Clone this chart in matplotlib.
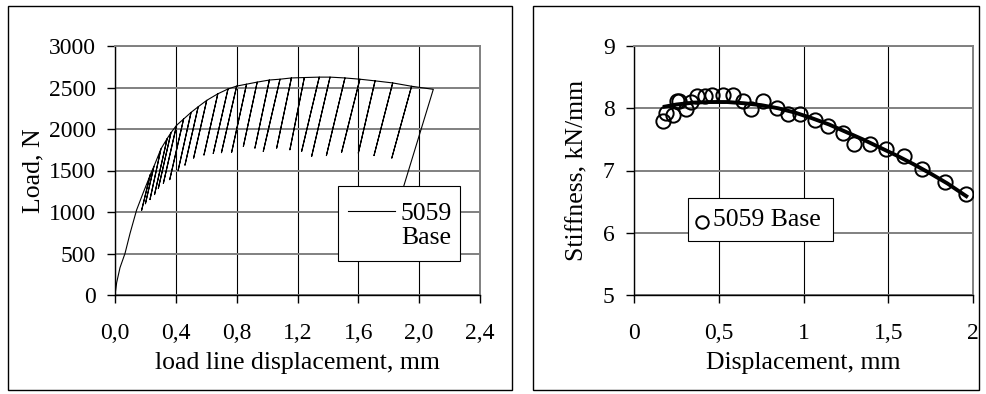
import matplotlib
matplotlib.use("Agg")
import matplotlib.pyplot as plt
from matplotlib.patches import Rectangle
from matplotlib.lines import Line2D
from matplotlib.ticker import FixedLocator, FixedFormatter

# ---------------- data: left chart (load vs load line displacement) ----------------
env_d = [0.0, 0.011, 0.033, 0.066, 0.099, 0.142, 0.185, 0.219]   # initial loading
env_P = [0, 150, 330, 502, 743, 1024, 1230, 1386]

peak_d = [0.232, 0.256, 0.302, 0.343, 0.368, 0.405, 0.451, 0.500, 0.547, 0.603,
          0.676, 0.743, 0.800, 0.865, 0.935, 1.015, 1.085, 1.160, 1.245, 1.343,
          1.414, 1.512, 1.610, 1.710, 1.826, 1.950]
peak_P = [1450, 1550, 1760, 1885, 1955, 2045, 2120, 2200, 2268, 2345,
          2424, 2482, 2517, 2540, 2565, 2590, 2600, 2615, 2620, 2625,
          2625, 2615, 2600, 2580, 2555, 2515]
valley_d = [0.175, 0.200, 0.230, 0.260, 0.285, 0.318, 0.360, 0.415, 0.460, 0.517,
            0.585, 0.646, 0.700, 0.767, 0.844, 0.920, 0.975, 1.063, 1.150, 1.227,
            1.293, 1.390, 1.490, 1.600, 1.703, 1.820]
valley_P = [1020, 1100, 1150, 1210, 1285, 1345, 1390, 1500, 1565, 1650,
            1687, 1705, 1715, 1720, 1790, 1770, 1730, 1770, 1750, 1730,
            1670, 1680, 1720, 1710, 1680, 1650]
final_d = [2.093, 1.780]
final_P = [2478, 600]

load_xticks = [0.0, 0.4, 0.8, 1.2, 1.6, 2.0, 2.4]
load_xticklabels = ["0,0", "0,4", "0,8", "1,2", "1,6", "2,0", "2,4"]
load_yticks = [0, 500, 1000, 1500, 2000, 2500, 3000]

# ---------------- data: right chart (stiffness vs displacement) ----------------
stiff_d = [0.169, 0.188, 0.228, 0.251, 0.267, 0.306, 0.335, 0.369, 0.418, 0.463,
           0.525, 0.584, 0.643, 0.692, 0.760, 0.843, 0.908, 0.980, 1.065, 1.143,
           1.231, 1.300, 1.394, 1.486, 1.594, 1.700, 1.835, 1.957]
stiff_k = [7.80, 7.92, 7.89, 8.11, 8.12, 7.99, 8.10, 8.20, 8.20, 8.21,
           8.21, 8.21, 8.11, 7.99, 8.12, 8.00, 7.90, 7.91, 7.81, 7.71,
           7.61, 7.43, 7.42, 7.35, 7.23, 7.02, 6.82, 6.63]
trend_d = [0.17, 0.25, 0.35, 0.45, 0.55, 0.65, 0.75, 0.85, 0.95, 1.05,
           1.15, 1.25, 1.35, 1.45, 1.55, 1.65, 1.75, 1.85, 1.97]
trend_k = [8.02, 8.06, 8.09, 8.10, 8.10, 8.08, 8.05, 8.00, 7.93, 7.84,
           7.74, 7.62, 7.50, 7.37, 7.24, 7.10, 6.95, 6.79, 6.57]

stiff_xticks = [0, 0.5, 1, 1.5, 2]
stiff_xticklabels = ["0", "0,5", "1", "1,5", "2"]
stiff_yticks = [5, 6, 7, 8, 9]

legend_text_left = "5059\nBase"
legend_text_right = "5059 Base"

# ---------------- figure ----------------
W, H = 986, 394
plt.rcParams['font.family'] = ['Liberation Serif', 'DejaVu Serif']
FS_TICK = 17
FS_LABEL = 18.5
FS_LEG = 18.5
fig = plt.figure(figsize=(W / 100, H / 100), dpi=100)

def fx(px):
    return px / W

def fy(py):
    return 1 - py / H

GRID_GREY = "#808080"

def style_axes(ax):
    for s in ("left", "bottom"):
        ax.spines[s].set_color("black")
        ax.spines[s].set_linewidth(1.0)
    for s in ("top", "right"):
        ax.spines[s].set_color(GRID_GREY)
        ax.spines[s].set_linewidth(1.4)
    ax.tick_params(direction="out", length=6, width=1.0, labelsize=FS_TICK, colors="black")
    ax.tick_params(axis="y", pad=8)
    ax.tick_params(axis="x", pad=14)
    ax.set_axisbelow(True)

# frames around each panel
fig.patches.append(Rectangle((fx(8), fy(390)), fx(512) - fx(8), fy(6) - fy(390),
                             transform=fig.transFigure, fill=False, edgecolor="black", lw=1.0))
fig.patches.append(Rectangle((fx(533), fy(390)), fx(979) - fx(533), fy(6) - fy(390),
                             transform=fig.transFigure, fill=False, edgecolor="black", lw=1.0))

# ---------------- left axes ----------------
ax1 = fig.add_axes([fx(115), fy(295), fx(480) - fx(115), fy(46) - fy(295)])
xs = list(env_d)
ys = list(env_P)
for pd_, pp, vd, vp in zip(peak_d, peak_P, valley_d, valley_P):
    xs += [pd_, vd, pd_]
    ys += [pp, vp, pp]
xs += final_d
ys += final_P
ax1.plot(xs, ys, color="black", lw=0.8, zorder=3)
ax1.set_xlim(0, 2.4)
ax1.set_ylim(0, 3000)
ax1.xaxis.set_major_locator(FixedLocator(load_xticks))
ax1.xaxis.set_major_formatter(FixedFormatter(load_xticklabels))
ax1.set_yticks(load_yticks)
ax1.yaxis.grid(True, color=GRID_GREY, lw=1.4)
ax1.xaxis.grid(True, color="black", lw=0.8)
style_axes(ax1)
ax1.set_xlabel("load line displacement, mm", fontsize=FS_LABEL, labelpad=6)
ax1.set_ylabel("Load, N", fontsize=FS_LABEL, labelpad=3)

# left legend (drawn manually)
fig.patches.append(Rectangle((fx(338), fy(261)), fx(460) - fx(338), fy(186) - fy(261),
                             transform=fig.transFigure, facecolor="white", edgecolor="black",
                             lw=0.8, zorder=10))
fig.lines.append(Line2D([fx(348), fx(395)], [fy(211), fy(211)], transform=fig.transFigure,
                        color="black", lw=0.8, zorder=11))
fig.text(fx(401), fy(226), legend_text_left, fontsize=FS_LEG, ha="left", va="center",
         linespacing=1.1, zorder=12)

# ---------------- right axes ----------------
ax2 = fig.add_axes([fx(634), fy(295), fx(973) - fx(634), fy(46) - fy(295)])
ax2.plot(stiff_d, stiff_k, linestyle="none", marker="o", markersize=10.3,
         markerfacecolor="none", markeredgecolor="black", markeredgewidth=1.4, zorder=3)
ax2.plot(trend_d, trend_k, color="black", lw=2.8, zorder=4, solid_capstyle="butt")
ax2.set_xlim(0, 2)
ax2.set_ylim(5, 9)
ax2.xaxis.set_major_locator(FixedLocator(stiff_xticks))
ax2.xaxis.set_major_formatter(FixedFormatter(stiff_xticklabels))
ax2.set_yticks(stiff_yticks)
ax2.yaxis.grid(True, color=GRID_GREY, lw=1.4)
ax2.xaxis.grid(True, color="black", lw=0.8)
style_axes(ax2)
ax2.set_xlabel("Displacement, mm", fontsize=FS_LABEL, labelpad=6)
ax2.set_ylabel("Stiffness, kN/mm", fontsize=FS_LABEL, labelpad=10)

# right legend (drawn manually)
fig.patches.append(Rectangle((fx(688), fy(241)), fx(833) - fx(688), fy(198) - fy(241),
                             transform=fig.transFigure, facecolor="white", edgecolor="black",
                             lw=0.8, zorder=10))
fig.lines.append(Line2D([fx(702)], [fy(222)], transform=fig.transFigure, linestyle="none",
                        marker="o", markersize=9.0, markerfacecolor="none",
                        markeredgecolor="black", markeredgewidth=1.4, zorder=11))
fig.text(fx(713), fy(220), legend_text_right, fontsize=FS_LEG, ha="left", va="center", zorder=12)

fig.savefig("out.png", dpi=100)
